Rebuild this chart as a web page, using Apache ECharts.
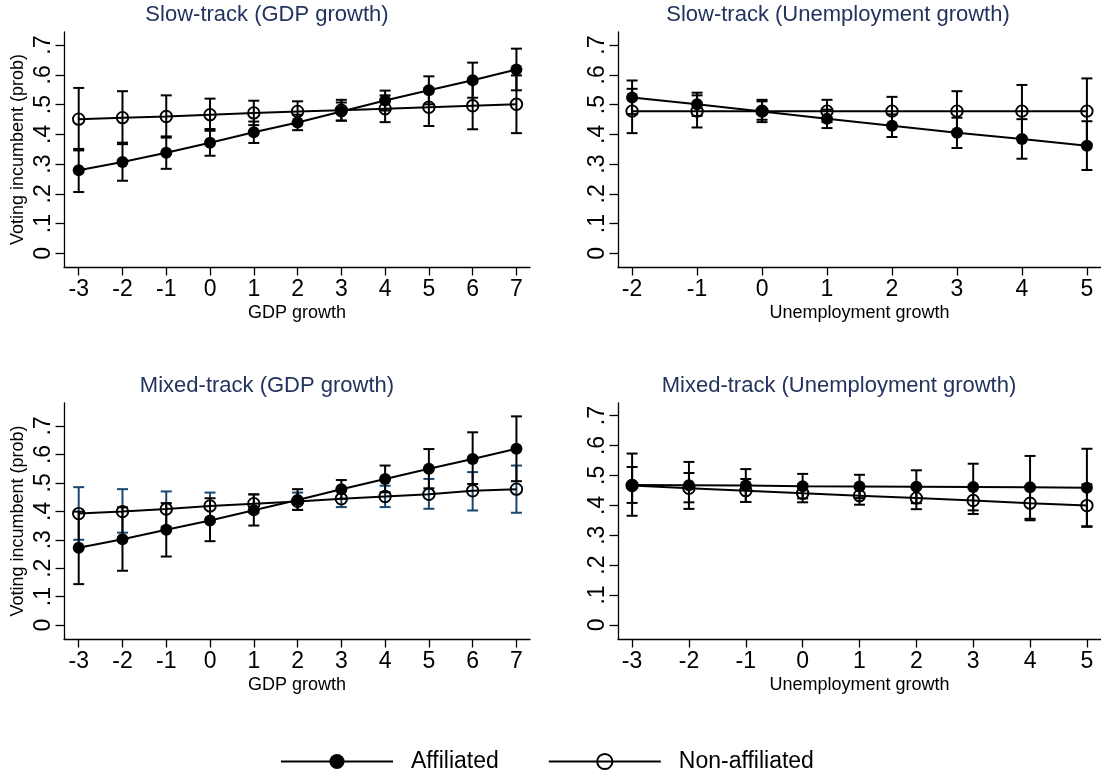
<!DOCTYPE html>
<html>
<head>
<meta charset="utf-8">
<title>Voting incumbent by economic conditions</title>
<script src="https://cdn.jsdelivr.net/npm/echarts@6/dist/echarts.min.js"></script>
<style>
  html, body { margin: 0; padding: 0; background: #fff; }
  #chart { width: 1101px; height: 776px; }
</style>
</head>
<body>
<div id="chart"></div>
<script>
// ---- Data -------------------------------------------------------------
const gdpX = [-3, -2, -1, 0, 1, 2, 3, 4, 5, 6, 7];
const unempSlowX = [-2, -1, 0, 1, 2, 3, 4, 5];
const unempMixedX = [-3, -2, -1, 0, 1, 2, 3, 4, 5];

const yTicks = [0, 0.1, 0.2, 0.3, 0.4, 0.5, 0.6, 0.7];
const yTickLabels = ['0', '.1', '.2', '.3', '.4', '.5', '.6', '.7'];

const panelTitles = [
  'Slow-track (GDP growth)',
  'Slow-track (Unemployment growth)',
  'Mixed-track (GDP growth)',
  'Mixed-track (Unemployment growth)'
];
const xTitles = ['GDP growth', 'Unemployment growth', 'GDP growth', 'Unemployment growth'];
const yTitle = 'Voting incumbent (prob)';
const groupNames = ['Affiliated', 'Non-affiliated'];

// Slow-track, GDP growth
const slowGdpAff   = [0.279, 0.307, 0.338, 0.372, 0.407, 0.440, 0.477, 0.514, 0.548, 0.582, 0.618];
const slowGdpAffLo = [0.206, 0.244, 0.284, 0.328, 0.371, 0.414, 0.446, 0.480, 0.501, 0.523, 0.548];
const slowGdpAffHi = [0.351, 0.372, 0.393, 0.418, 0.443, 0.466, 0.507, 0.547, 0.595, 0.641, 0.688];
const slowGdpNon   = [0.451, 0.456, 0.460, 0.466, 0.472, 0.477, 0.481, 0.486, 0.491, 0.496, 0.501];
const slowGdpNonLo = [0.346, 0.367, 0.389, 0.412, 0.431, 0.443, 0.446, 0.441, 0.428, 0.417, 0.404];
const slowGdpNonHi = [0.556, 0.545, 0.531, 0.520, 0.513, 0.511, 0.516, 0.531, 0.555, 0.575, 0.598];

// Slow-track, unemployment growth
const slowUnAff   = [0.524, 0.501, 0.477, 0.452, 0.429, 0.405, 0.384, 0.362];
const slowUnAffLo = [0.468, 0.462, 0.441, 0.421, 0.391, 0.354, 0.318, 0.280];
const slowUnAffHi = [0.581, 0.540, 0.516, 0.483, 0.467, 0.456, 0.451, 0.444];
const slowUnNon   = [0.478, 0.478, 0.478, 0.478, 0.478, 0.478, 0.478, 0.478];
const slowUnNonLo = [0.404, 0.423, 0.449, 0.441, 0.430, 0.411, 0.390, 0.368];
const slowUnNonHi = [0.553, 0.531, 0.511, 0.516, 0.526, 0.545, 0.566, 0.588];

// Mixed-track, GDP growth
const mixGdpAff   = [0.272, 0.302, 0.335, 0.368, 0.404, 0.440, 0.478, 0.514, 0.550, 0.584, 0.620];
const mixGdpAffLo = [0.144, 0.191, 0.241, 0.295, 0.350, 0.405, 0.444, 0.467, 0.481, 0.496, 0.506];
const mixGdpAffHi = [0.399, 0.414, 0.429, 0.446, 0.460, 0.478, 0.510, 0.561, 0.619, 0.678, 0.734];
const mixGdpNon   = [0.392, 0.399, 0.408, 0.419, 0.427, 0.435, 0.444, 0.452, 0.460, 0.472, 0.478];
const mixGdpNonLo = [0.300, 0.325, 0.346, 0.372, 0.395, 0.405, 0.415, 0.415, 0.409, 0.403, 0.395];
const mixGdpNonHi = [0.485, 0.478, 0.470, 0.466, 0.459, 0.466, 0.473, 0.490, 0.514, 0.538, 0.561];

// Mixed-track, unemployment growth
const mixUnAff   = [0.468, 0.467, 0.466, 0.464, 0.463, 0.462, 0.461, 0.460, 0.459];
const mixUnAffLo = [0.365, 0.388, 0.411, 0.423, 0.424, 0.407, 0.383, 0.355, 0.330];
const mixUnAffHi = [0.573, 0.545, 0.521, 0.505, 0.502, 0.517, 0.539, 0.565, 0.589];
const mixUnNon   = [0.466, 0.457, 0.449, 0.440, 0.432, 0.424, 0.416, 0.407, 0.399];
const mixUnNonLo = [0.408, 0.410, 0.411, 0.410, 0.402, 0.387, 0.371, 0.350, 0.328];
const mixUnNonHi = [0.528, 0.508, 0.488, 0.470, 0.462, 0.461, 0.461, 0.464, 0.470];

// ---- Styling ----------------------------------------------------------
const FONT = '"Liberation Sans", Arial, Helvetica, sans-serif';
const INK = '#000000';
const NAVY = '#1a476f';
const TITLE_COLOR = '#22335e';

// Panel layout: plot rectangles and axis extents
const panels = [
  { grid: { left: 64, top: 32, width: 466, height: 235 }, xMin: -3.336, xMax: 7.31, yMin: -0.046, yMax: 0.744,
    xs: gdpX, titleX: 267, titleY: 4, yName: true,
    aff: [slowGdpAff, slowGdpAffLo, slowGdpAffHi], non: [slowGdpNon, slowGdpNonLo, slowGdpNonHi], nonBar: INK },
  { grid: { left: 618, top: 32, width: 484, height: 235 }, xMin: -2.217, xMax: 5.217, yMin: -0.046, yMax: 0.744,
    xs: unempSlowX, titleX: 838, titleY: 4, yName: false,
    aff: [slowUnAff, slowUnAffLo, slowUnAffHi], non: [slowUnNon, slowUnNonLo, slowUnNonHi], nonBar: INK },
  { grid: { left: 64, top: 403, width: 466, height: 236 }, xMin: -3.336, xMax: 7.31, yMin: -0.049, yMax: 0.781,
    xs: gdpX, titleX: 267, titleY: 375, yName: true,
    aff: [mixGdpAff, mixGdpAffLo, mixGdpAffHi], non: [mixGdpNon, mixGdpNonLo, mixGdpNonHi], nonBar: NAVY },
  { grid: { left: 618, top: 403, width: 484, height: 236 }, xMin: -3.248, xMax: 5.248, yMin: -0.047, yMax: 0.742,
    xs: unempMixedX, titleX: 839, titleY: 375, yName: false,
    aff: [mixUnAff, mixUnAffLo, mixUnAffHi], non: [mixUnNon, mixUnNonLo, mixUnNonHi], nonBar: INK }
];

// Vertical capped interval drawn through the axis scales
function capRenderer(color) {
  return function (params, api) {
    const x = api.value(0);
    const lo = api.coord([x, api.value(1)]);
    const hi = api.coord([x, api.value(2)]);
    const half = 5.5;
    const style = { stroke: color, lineWidth: 2, fill: null };
    return {
      type: 'group',
      children: [
        { type: 'line', shape: { x1: lo[0], y1: lo[1], x2: hi[0], y2: hi[1] }, style: style },
        { type: 'line', shape: { x1: lo[0] - half, y1: lo[1], x2: lo[0] + half, y2: lo[1] }, style: style },
        { type: 'line', shape: { x1: hi[0] - half, y1: hi[1], x2: hi[0] + half, y2: hi[1] }, style: style }
      ]
    };
  };
}

function zip2(xs, ys) { return xs.map((x, i) => [x, ys[i]]); }
function zip3(xs, lo, hi) { return xs.map((x, i) => [x, lo[i], hi[i]]); }

const grids = [], xAxes = [], yAxes = [], series = [], titles = [];

panels.forEach((p, i) => {
  grids.push(Object.assign({ containLabel: false }, p.grid));

  xAxes.push({
    type: 'value', gridIndex: i, min: p.xMin, max: p.xMax,
    name: xTitles[i], nameLocation: 'middle', nameGap: 37,
    nameTextStyle: { fontFamily: FONT, fontSize: 18, color: INK },
    axisLine: { show: true, onZero: false, lineStyle: { color: INK, width: 1.3 } },
    axisTick: { show: true, length: 8.5, lineStyle: { color: INK, width: 1.3 }, customValues: p.xs },
    axisLabel: { show: true, margin: 11, fontFamily: FONT, fontSize: 23, color: INK,
                 customValues: p.xs, formatter: v => String(v) },
    splitLine: { show: false }
  });

  yAxes.push({
    type: 'value', gridIndex: i, min: p.yMin, max: p.yMax,
    name: p.yName ? yTitle : '', nameLocation: 'middle', nameGap: 37,
    nameTextStyle: { fontFamily: FONT, fontSize: 18, color: INK },
    axisLine: { show: true, onZero: false, lineStyle: { color: INK, width: 1.3 } },
    axisTick: { show: true, length: 8.5, lineStyle: { color: INK, width: 1.3 }, customValues: yTicks },
    axisLabel: { show: true, rotate: 90, margin: 9, fontFamily: FONT, fontSize: 23, color: INK,
                 customValues: yTicks,
                 formatter: v => {
                   const k = yTicks.findIndex(t => Math.abs(t - v) < 1e-9);
                   return k >= 0 ? yTickLabels[k] : '';
                 } },
    splitLine: { show: false }
  });

  titles.push({
    text: panelTitles[i], left: p.titleX, top: p.titleY, textAlign: 'center', padding: 0,
    textStyle: { fontFamily: FONT, fontSize: 22, fontWeight: 'normal', color: TITLE_COLOR }
  });

  // confidence intervals
  series.push({
    name: groupNames[1] + ' interval', type: 'custom', xAxisIndex: i, yAxisIndex: i, z: 2,
    renderItem: capRenderer(p.nonBar), encode: { x: 0, y: [1, 2] },
    data: zip3(p.xs, p.non[1], p.non[2]), silent: true
  });
  series.push({
    name: groupNames[0] + ' interval', type: 'custom', xAxisIndex: i, yAxisIndex: i, z: 2,
    renderItem: capRenderer(INK), encode: { x: 0, y: [1, 2] },
    data: zip3(p.xs, p.aff[1], p.aff[2]), silent: true
  });

  // point estimates
  series.push({
    name: groupNames[1], type: 'line', xAxisIndex: i, yAxisIndex: i, z: 3,
    data: zip2(p.xs, p.non[0]),
    symbol: 'circle', symbolSize: 11.5, showAllSymbol: true,
    itemStyle: { color: 'rgba(0,0,0,0)', borderColor: INK, borderWidth: 1.9 },
    lineStyle: { color: INK, width: 2 },
    emphasis: { disabled: true }, silent: true
  });
  series.push({
    name: groupNames[0], type: 'line', xAxisIndex: i, yAxisIndex: i, z: 4,
    data: zip2(p.xs, p.aff[0]),
    symbol: 'circle', symbolSize: 12, showAllSymbol: true,
    itemStyle: { color: INK, borderWidth: 0 },
    lineStyle: { color: INK, width: 2 },
    emphasis: { disabled: true }, silent: true
  });
});

const chart = echarts.init(document.getElementById('chart'), null, { renderer: 'canvas' });
chart.setOption({
  backgroundColor: '#ffffff',
  animation: false,
  title: titles,
  grid: grids,
  xAxis: xAxes,
  yAxis: yAxes,
  legend: {
    data: groupNames,
    left: 275, top: 745, orient: 'horizontal',
    itemWidth: 112, itemHeight: 19, itemGap: 49,
    selectedMode: false,
    textStyle: { fontFamily: FONT, fontSize: 23, color: INK, padding: [0, 0, 0, 13] }
  },
  series: series
});
</script>
</body>
</html>
